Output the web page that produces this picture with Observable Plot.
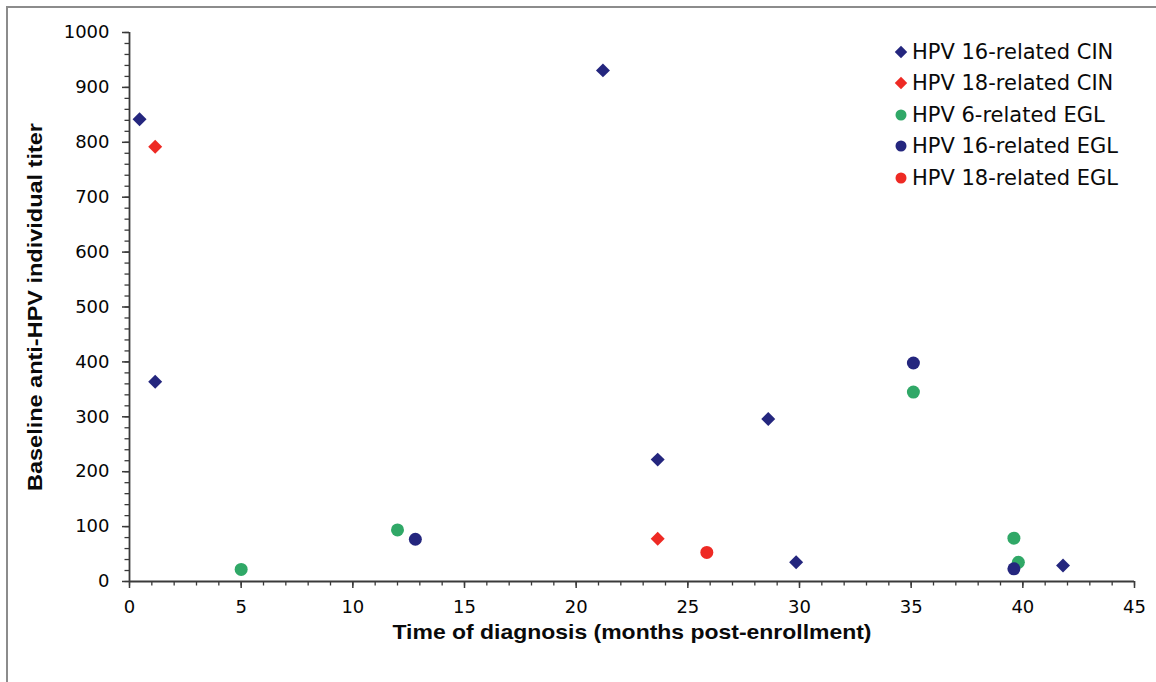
<!DOCTYPE html>
<html>
<head>
<meta charset="utf-8">
<script src="https://cdn.jsdelivr.net/npm/d3@7"></script>
<script src="https://cdn.jsdelivr.net/npm/@observablehq/plot@0.6"></script>
<style>
  html, body { margin: 0; padding: 0; background: #fff; }
  #wrap { position: relative; width: 1156px; height: 682px; overflow: hidden; background: #fff; }
  #frame { position: absolute; left: 6px; top: 6px; right: -4px; bottom: -4px; border-left: 2px solid #8c8c8c; border-top: 2px solid #8c8c8c; pointer-events: none; }
  #legend { position: absolute; left: 893px; top: 36px; font-family: "DejaVu Sans", sans-serif; font-size: 21px; color: #0a0a0a; }
  #legend .row { display: flex; align-items: center; height: 31.5px; white-space: pre; }
  #legend svg { margin-right: 3px; }
</style>
</head>
<body>
<div id="wrap"><div id="frame"></div><div id="legend"></div></div>
<script>
// ---- data ----
const seriesNames = ["HPV 16-related CIN", "HPV 18-related CIN", "HPV 6-related EGL", "HPV 16-related EGL", "HPV 18-related EGL"];
const seriesSymbols = ["diamond2", "diamond2", "circle", "circle", "circle"];
const seriesColors = ["#24267e", "#ee2a24", "#30a867", "#24267e", "#ee2a24"];

const hpv16CIN_x = [0.45, 1.15, 21.2, 23.65, 28.6, 29.85, 41.8];
const hpv16CIN_y = [842, 364, 931, 222, 296, 35, 29];
const hpv18CIN_x = [1.15, 23.65];
const hpv18CIN_y = [792, 78];
const hpv6EGL_x = [5.0, 12.0, 35.1, 39.6, 39.8];
const hpv6EGL_y = [22, 94, 345, 79, 35];
const hpv16EGL_x = [12.8, 35.1, 39.6];
const hpv16EGL_y = [77, 398, 23];
const hpv18EGL_x = [25.85];
const hpv18EGL_y = [53];

const xTicks = [0, 5, 10, 15, 20, 25, 30, 35, 40, 45];
const yTicks = [0, 100, 200, 300, 400, 500, 600, 700, 800, 900, 1000];
const xTitle = "Time of diagnosis (months post-enrollment)";
const yTitle = "Baseline anti-HPV individual titer";

// ---- build table ----
const seriesXs = [hpv16CIN_x, hpv18CIN_x, hpv6EGL_x, hpv16EGL_x, hpv18EGL_x];
const seriesYs = [hpv16CIN_y, hpv18CIN_y, hpv6EGL_y, hpv16EGL_y, hpv18EGL_y];
const data = [];
seriesNames.forEach((name, i) => {
  seriesXs[i].forEach((x, j) => data.push({series: name, x, y: seriesYs[i][j], order: i}));
});

const axisColor = "#3a3a3a";
const dotMarks = seriesNames.map((name, i) =>
  Plot.dot(data.filter(d => d.series === name), {
    x: "x", y: "y",
    symbol: () => seriesSymbols[i],
    fill: seriesColors[i],
    r: seriesSymbols[i] === "circle" ? 6.5 : 6.3,
    stroke: "none"
  })
);

const chart = Plot.plot({
  width: 1156,
  height: 682,
  marginLeft: 129,
  marginRight: 22,
  marginTop: 32,
  marginBottom: 101,
  x: {domain: [0, 45]},
  y: {domain: [0, 1000]},
  symbol: {type: "identity"},
  style: {fontFamily: "DejaVu Sans, sans-serif", fontSize: "18px", color: "#050505", background: "transparent", overflow: "visible"},
  marks: [
    Plot.axisX({ticks: d3.range(0, 46, 1), tickSize: 4.5, text: null, stroke: axisColor, strokeWidth: 1.3, label: null}),
    Plot.axisX({ticks: xTicks, tickSize: 7, tickPadding: 12, tickFormat: d => String(d), stroke: axisColor, strokeWidth: 1.5, label: null, fontSize: 18}),
    Plot.axisY({ticks: d3.range(0, 1001, 20), tickSize: 4.5, text: null, stroke: axisColor, strokeWidth: 1.3, label: null}),
    Plot.axisY({ticks: yTicks, tickSize: 7, tickPadding: 13, tickFormat: d => String(d), stroke: axisColor, strokeWidth: 1.5, label: null, fontSize: 18}),
    Plot.ruleX([0], {stroke: axisColor, strokeWidth: 1.8}),
    Plot.ruleY([0], {stroke: axisColor, strokeWidth: 1.8}),
    Plot.text([xTitle], {frameAnchor: "bottom", textAnchor: "middle", dy: 57, fontSize: 21, fontWeight: "bold", fontFamily: "Liberation Sans, Arial, sans-serif", fill: "#0a0a0a"}),
    Plot.text([yTitle], {frameAnchor: "left", textAnchor: "middle", dx: -94, rotate: -90, fontSize: 21, fontWeight: "bold", fontFamily: "Liberation Sans, Arial, sans-serif", fill: "#0a0a0a"}),
    ...dotMarks
  ]
});

// fit axis titles to the reference's lengths
d3.select(chart).selectAll("text").each(function() {
  const t = this.textContent;
  if (t === xTitle) { d3.select(this).attr("textLength", 479).attr("lengthAdjust", "spacingAndGlyphs"); }
  if (t === yTitle) { d3.select(this).attr("textLength", 368).attr("lengthAdjust", "spacingAndGlyphs"); }
});

const wrap = document.getElementById("wrap");
wrap.insertBefore(chart, wrap.firstChild);
chart.style.position = "absolute";
chart.style.left = "0px";
chart.style.top = "0px";

// legend
const legend = d3.select("#legend");
seriesNames.forEach((name, i) => {
  const row = legend.append("div").attr("class", "row");
  const s = row.append("svg").attr("width", 16).attr("height", 16);
  const sym = seriesSymbols[i] === "circle" ? d3.symbolCircle : d3.symbolDiamond2;
  const size = seriesSymbols[i] === "circle" ? Math.PI * 5.5 * 5.5 : Math.PI * 5.6 * 5.6;
  s.append("path").attr("transform", "translate(8,8)").attr("d", d3.symbol(sym, size)()).attr("fill", seriesColors[i]);
  row.append("span").text(name);
});
</script>
</body>
</html>
